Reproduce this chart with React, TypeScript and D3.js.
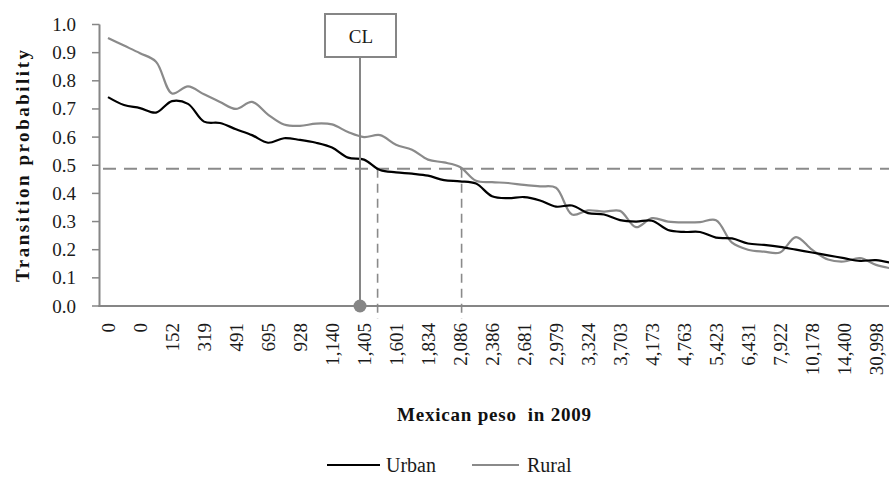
import React from 'react';
import * as d3 from 'd3';

const tickLabels = ["0","0","152","319","491","695","928","1,140","1,405","1,601","1,834","2,086","2,386","2,681","2,979","3,324","3,703","4,173","4,763","5,423","6,431","7,922","10,178","14,400","30,998"];

const urban = [0.742,0.714,0.703,0.687,0.728,0.718,0.655,0.65,0.628,0.607,0.58,0.596,0.59,0.58,0.563,0.527,0.52,0.483,0.475,0.47,0.463,0.447,0.443,0.435,0.39,0.383,0.387,0.375,0.353,0.357,0.33,0.325,0.305,0.3,0.303,0.27,0.263,0.263,0.243,0.24,0.222,0.217,0.21,0.2,0.19,0.18,0.17,0.16,0.163,0.152];

const rural = [0.952,0.925,0.898,0.868,0.755,0.78,0.752,0.725,0.7,0.725,0.68,0.645,0.64,0.648,0.645,0.618,0.6,0.607,0.573,0.555,0.52,0.51,0.494,0.445,0.44,0.437,0.43,0.425,0.42,0.325,0.34,0.335,0.338,0.28,0.312,0.3,0.297,0.298,0.305,0.225,0.2,0.193,0.19,0.245,0.2,0.165,0.158,0.17,0.146,0.133];

const yTicks = [0, 0.1, 0.2, 0.3, 0.4, 0.5, 0.6, 0.7, 0.8, 0.9, 1.0];
const thresholdValue = 0.488;
const clIndex = 15.75;
const dashIndices = [16.85, 22.1];
const seriesNames = ["Urban", "Rural"];

const W = 889, H = 496;
const AXIS_GRAY = '#868686';
const LINE_GRAY = '#8a8a8a';
const serif = "'Liberation Serif', 'Times New Roman', Times, serif";

export default function App() {
  const x = d3.scaleLinear().domain([0, urban.length - 1]).range([108, 108 + 16 * (urban.length - 1)]);
  const y = d3.scaleLinear().domain([0, 1]).range([306, 24.5]);
  const line = d3.line<number>().x((d, i) => x(i)).y(d => y(d)).curve(d3.curveCatmullRom.alpha(0.5));
  const axisX = 99.5;
  const y0 = y(0);
  const yTh = y(thresholdValue);
  const clX = x(clIndex);
  const txt = { fontFamily: serif } as React.CSSProperties;

  return (
    <svg width={W} height={H} style={{ position: 'absolute', left: 0, top: 0, display: 'block', background: '#fff', fontFamily: serif }}>
      {yTicks.map(v => (
        <g key={v}>
          <line x1={92} x2={axisX} y1={y(v)} y2={y(v)} stroke={AXIS_GRAY} strokeWidth={1.5} />
          <text x={76} y={y(v)} textAnchor="end" dominantBaseline="central" style={txt} fontSize={19} fill="#1a1a1a">{v.toFixed(1)}</text>
        </g>
      ))}
      {tickLabels.map((t, k) => (
        <text key={k} transform={`translate(${x(2 * k)},${323}) rotate(-90)`} textAnchor="end" dominantBaseline="central" style={txt} fontSize={19} fill="#1a1a1a">{t}</text>
      ))}
      <line x1={103} x2={W} y1={yTh} y2={yTh} stroke={LINE_GRAY} strokeWidth={2} strokeDasharray="13,8" />
      {dashIndices.map((di, k) => (
        <line key={k} x1={x(di)} x2={x(di)} y1={yTh} y2={319} stroke={LINE_GRAY} strokeWidth={1.6} strokeDasharray="9,6" />
      ))}
      <path d={line(rural) || ''} fill="none" stroke={LINE_GRAY} strokeWidth={2.2} />
      <path d={line(urban) || ''} fill="none" stroke="#000" strokeWidth={2.2} />
      <line x1={axisX} x2={axisX} y1={y(1)} y2={y0 + 1} stroke={AXIS_GRAY} strokeWidth={2} />
      <line x1={axisX - 1} x2={W} y1={y0} y2={y0} stroke={AXIS_GRAY} strokeWidth={2} />
      <line x1={clX} x2={clX} y1={57} y2={y0} stroke={AXIS_GRAY} strokeWidth={2} />
      <circle cx={clX} cy={y0} r={6.5} fill={AXIS_GRAY} />
      <rect x={clX - 35} y={14} width={71} height={43} fill="#fff" stroke={AXIS_GRAY} strokeWidth={2} />
      <text x={clX + 1} y={36} textAnchor="middle" dominantBaseline="central" style={txt} fontSize={19} fill="#1a1a1a">CL</text>
      <text transform={`translate(22,166) rotate(-90)`} textAnchor="middle" dominantBaseline="central" style={txt} fontSize={19} fontWeight="bold" fill="#111" textLength={232} lengthAdjust="spacing">Transition probability</text>
      <text x={494} y={414} textAnchor="middle" dominantBaseline="central" style={{ ...txt, whiteSpace: 'pre' }} fontSize={19} fontWeight="bold" fill="#111" textLength={194} lengthAdjust="spacing">{"Mexican peso  in 2009"}</text>
      <line x1={327} x2={380} y1={465} y2={465} stroke="#000" strokeWidth={2.2} />
      <text x={386} y={465} dominantBaseline="central" style={txt} fontSize={20} fill="#1a1a1a">{seriesNames[0]}</text>
      <line x1={472} x2={519} y1={465} y2={465} stroke={LINE_GRAY} strokeWidth={2.2} />
      <text x={527} y={465} dominantBaseline="central" style={txt} fontSize={20} fill="#1a1a1a">{seriesNames[1]}</text>
    </svg>
  );
}
